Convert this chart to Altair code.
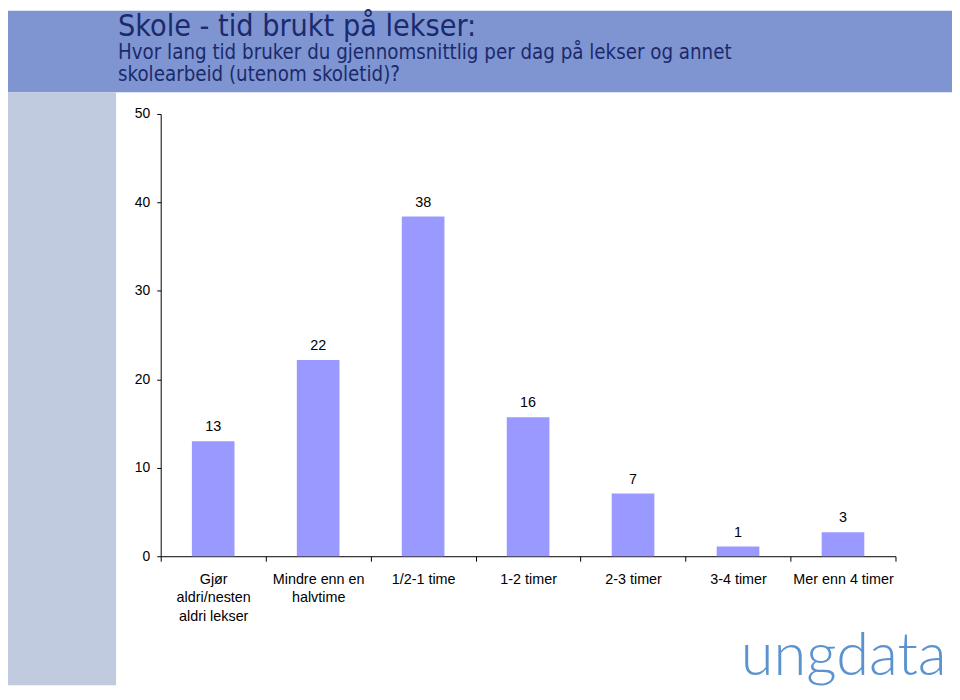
import altair as alt
import pandas as pd

categories = [
    "Gjør\naldri/nesten\naldri lekser",
    "Mindre enn en\nhalvtime",
    "1/2-1 time",
    "1-2 timer",
    "2-3 timer",
    "3-4 timer",
    "Mer enn 4 timer",
]
values = [13.0, 22.2, 38.4, 15.7, 7.1, 1.1, 2.7]
value_labels = ["13", "22", "38", "16", "7", "1", "3"]

title_text = ["Skole - tid brukt på lekser:"]
subtitle_line1 = ["Hvor lang tid bruker du gjennomsnittlig per dag på lekser og annet"]
subtitle_line2 = ["skolearbeid (utenom skoletid)?"]
logo_text = ["ungdata"]

df = pd.DataFrame({"kategori": categories, "verdi": values, "etikett": value_labels})
one = pd.DataFrame({"a": [0]})

W, H = 741, 446
PL, PT, PR, PB = 154, 104, 57, 130
SVG_W = PL + W + PR

header_font = "DejaVu Sans Condensed, DejaVu Sans"
axis_font = "Liberation Sans, Arial"
navy = "#1c2a6c"

header = alt.Chart(one).mark_rect(color="#7f95d2").encode(
    x=alt.value(-PL), x2=alt.value(SVG_W - PL),
    y=alt.value(-PT), y2=alt.value(-22),
)
strip = alt.Chart(one).mark_rect(color="#c1cbdf").encode(
    x=alt.value(-PL), x2=alt.value(-45),
    y=alt.value(-22), y2=alt.value(H + PB),
)


def header_text(lines, y, size):
    return alt.Chart(pd.DataFrame({"t": lines})).mark_text(
        align="left", baseline="alphabetic", font=header_font, fontSize=size, color=navy
    ).encode(x=alt.value(-43), y=alt.value(y), text="t:N")


title = header_text(title_text, -79, 30.5)
sub1 = header_text(subtitle_line1, -55, 20.5)
sub2 = header_text(subtitle_line2, -33, 20.5)

logo = alt.Chart(pd.DataFrame({"t": logo_text})).mark_text(
    align="left", baseline="alphabetic", font="Lato", fontWeight=300, fontSize=60, color="#5b93cf"
).encode(x=alt.value(585), y=alt.value(566), text="t:N")

xenc = alt.X(
    "kategori:N",
    sort=categories,
    scale=alt.Scale(paddingInner=0, paddingOuter=0),
    axis=alt.Axis(
        title=None, labelAngle=0, labelExpr="split(datum.label, '\\n')",
        tickBand="extent", labelFontSize=14.5, labelColor="black", labelFont=axis_font,
        domainColor="black", tickColor="black", tickSize=5, labelPadding=11,
        labelLineHeight=19, labelBaseline="top", labelOverlap=False, labelLimit=300,
    ),
)
yenc = alt.Y(
    "verdi:Q",
    scale=alt.Scale(domain=[0, 50]),
    axis=alt.Axis(
        title=None, values=[0, 10, 20, 30, 40, 50], grid=False, labelFontSize=14,
        labelColor="black", labelFont=axis_font, domainColor="black", tickColor="black",
        tickSize=4, labelPadding=7,
    ),
)

bars = alt.Chart(df).mark_bar(size=43, color="#9999ff").encode(x=xenc, y=yenc)
texts = alt.Chart(df).mark_text(
    baseline="bottom", dy=-7, fontSize=14.5, font=axis_font, color="black"
).encode(x=xenc, y=yenc, text="etikett:N")

chart = alt.layer(header, strip, title, sub1, sub2, logo, bars, texts).properties(
    width=W, height=H,
    padding={"left": PL, "top": PT, "right": PR, "bottom": PB},
    autosize=alt.AutoSizeParams(type="none"),
    background="white",
).configure_view(stroke="transparent")

chart.save("out.html", embed_options={"renderer": "svg", "actions": False})
